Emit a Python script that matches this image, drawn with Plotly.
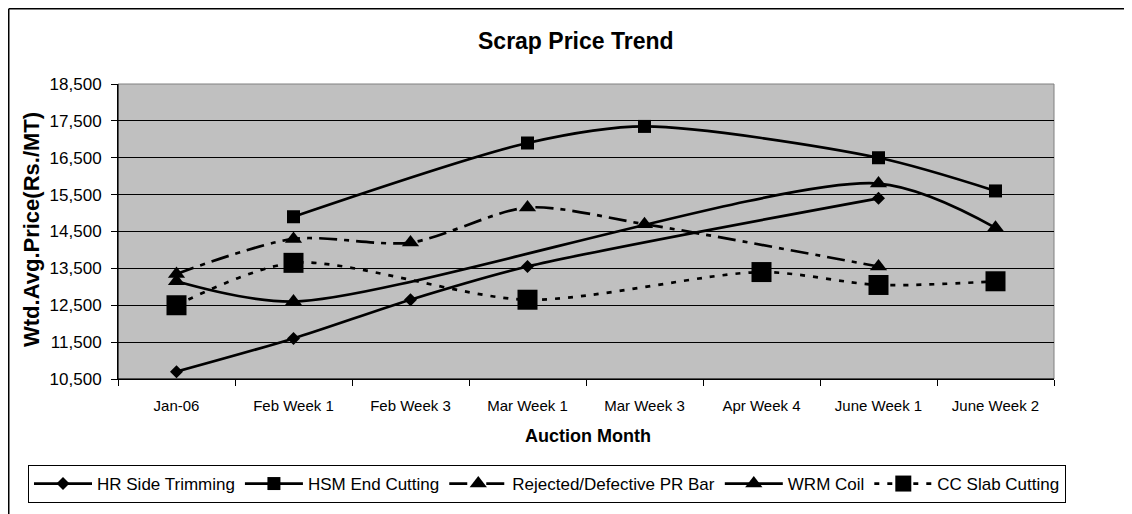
import plotly.graph_objects as go

categories = ["Jan-06", "Feb Week 1", "Feb Week 3", "Mar Week 1", "Mar Week 3",
              "Apr Week 4", "June Week 1", "June Week 2"]
hr_side_trimming = [10700, 11600, 12650, 13550, None, None, 15400, None]
hsm_end_cutting = [None, 14900, None, 16900, 17350, None, 16500, 15600]
rejected_pr_bar = [13350, 14300, 14200, 15150, 14700, None, 13550, None]
wrm_coil = [13150, 12600, None, None, None, None, 15800, 14600]
cc_slab_cutting = [12500, 13650, None, 12650, None, 13400, 13050, 13150]
y_ticks = [10500, 11500, 12500, 13500, 14500, 15500, 16500, 17500, 18500]

FONT = "Liberation Sans, Arial, sans-serif"
OFF = 8  # the page body adds an 8px margin around the figure
W, H = 1132 - OFF, 514 - OFF
L, R, T, B = 118 - OFF, 1054 - OFF, 84 - OFF, 379 - OFF
PW, PH = R - L, B - T


def px_x(x):
    """page x (reference pixels) -> paper x"""
    return (x - OFF - L) / PW


def px_y(y):
    """page y (reference pixels) -> paper y"""
    return (B - (y - OFF)) / PH


series = [
    ("HR Side Trimming", hr_side_trimming, "solid", "diamond", 10),
    ("HSM End Cutting", hsm_end_cutting, "solid", "square", 13),
    ("Rejected/Defective PR Bar", rejected_pr_bar, "18px,7px,5px,7px", "triangle-up", 15),
    ("WRM Coil", wrm_coil, "solid", "triangle-up", 15),
    ("CC Slab Cutting", cc_slab_cutting, "5px,8px", "square", 20),
]

fig = go.Figure()
for name, vals, dash, sym, size in series:
    fig.add_trace(go.Scatter(
        x=categories, y=vals, name=name, mode="lines+markers",
        connectgaps=True,
        line=dict(color="black", width=2.7, dash=dash, shape="spline", smoothing=0.8),
        marker=dict(color="black", symbol=sym, size=size, line=dict(width=0)),
    ))

fig.update_layout(
    width=W, height=H,
    margin=dict(l=L, r=W - R, t=T, b=H - B, pad=0, autoexpand=False),
    paper_bgcolor="white",
    plot_bgcolor="#C0C0C0",
    font=dict(family=FONT, color="black", size=16),
    showlegend=True,
    legend=dict(
        orientation="h",
        x=px_x(28), xanchor="left", y=px_y(465), yanchor="top",
        bordercolor="black", borderwidth=1, bgcolor="white",
        font=dict(family=FONT, size=17, color="black"),
        itemwidth=58, tracegroupgap=0,
    ),
    xaxis=dict(
        type="category", categoryorder="array", categoryarray=categories,
        showgrid=False, showline=True, linecolor="black", linewidth=1,
        ticks="outside", ticklen=6, tickcolor="black", tickson="boundaries",
        tickfont=dict(family=FONT, size=15, color="black"),
        ticklabelstandoff=13, automargin=False,
        range=[-0.5, len(categories) - 0.5],
        zeroline=False,
    ),
    yaxis=dict(
        range=[10500, 18500], tickvals=y_ticks, tickformat=",d",
        showgrid=True, gridcolor="black", gridwidth=1,
        showline=True, linecolor="black", linewidth=1,
        ticks="outside", ticklen=6, tickcolor="black",
        tickfont=dict(family=FONT, size=17, color="black"),
        ticklabelstandoff=6, automargin=False, zeroline=False,
    ),
    shapes=[
        dict(type="rect", xref="paper", yref="paper", x0=0, x1=1, y0=0, y1=1,
             line=dict(color="#808080", width=1), fillcolor="rgba(0,0,0,0)", layer="between"),
        dict(type="line", xref="paper", yref="paper", x0=0, x1=0, y0=0, y1=1,
             line=dict(color="black", width=1), layer="above"),
        dict(type="line", xref="paper", yref="paper", x0=0, x1=1, y0=0, y1=0,
             line=dict(color="black", width=1), layer="above"),
        dict(type="line", xref="paper", yref="paper",
             x0=px_x(OFF + 0.75), x1=px_x(OFF + 0.75), y0=px_y(OFF + 0.75), y1=px_y(600),
             line=dict(color="black", width=1.5)),
        dict(type="line", xref="paper", yref="paper",
             x0=px_x(OFF + 0.75), x1=px_x(1200), y0=px_y(OFF + 0.75), y1=px_y(OFF + 0.75),
             line=dict(color="black", width=1.5)),
    ],
    annotations=[
        dict(text="<b>Scrap Price Trend</b>", xref="paper", yref="paper",
             x=px_x(576), y=px_y(41), xanchor="center", yanchor="middle", showarrow=False,
             font=dict(family=FONT, size=23, color="black")),
        dict(text="<b>Wtd.Avg.Price(Rs./MT)</b>", xref="paper", yref="paper",
             x=px_x(31), y=px_y(230), xanchor="center", yanchor="middle", showarrow=False,
             textangle=-90, font=dict(family=FONT, size=22, color="black")),
        dict(text="<b>Auction Month</b>", xref="paper", yref="paper",
             x=px_x(588), y=px_y(436), xanchor="center", yanchor="middle", showarrow=False,
             font=dict(family=FONT, size=18, color="black")),
    ],
)

fig.write_html("out.html")
